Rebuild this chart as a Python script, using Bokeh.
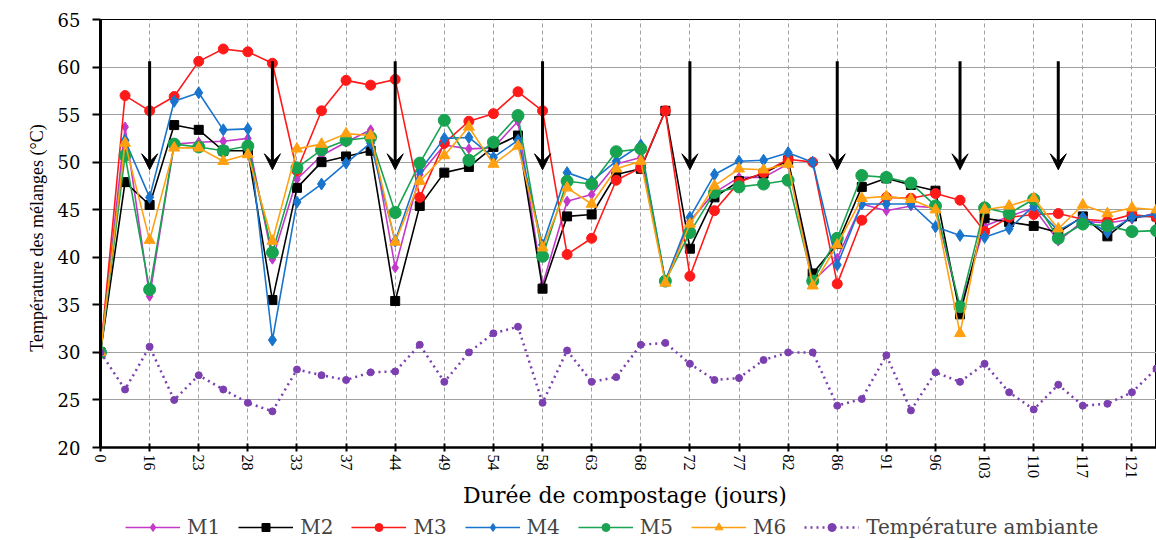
from bokeh.plotting import figure
from bokeh.layouts import column
from bokeh.models import Range1d, FixedTicker, Legend, LegendItem, Arrow, VeeHead
from bokeh.embed import file_html
from bokeh.resources import INLINE

# ---- data ----
days = ["0", "9", "16", "19", "23", "26", "28", "30", "33", "35", "37", "40", "44", "47",
        "49", "51", "54", "56", "58", "61", "63", "65", "68", "70", "72", "75", "77", "79",
        "82", "84", "86", "89", "91", "93", "96", "100", "103", "107", "110", "114", "117",
        "119", "121", "124"]
turning_days = ["16", "30", "44", "58", "72", "86", "100", "114"]

M1 = [30, 53.7, 35.9, 51.9, 52.1, 52.2, 52.5, 39.8, 48.2, 50.7, 52.1, 53.4, 38.9, 48.7,
      51.8, 51.4, 51.5, 54.3, 37.1, 45.9, 46.6, 49.8, 50.5, 37.5, 43.8, 46.8, 48.4, 48.4,
      49.8, 37.5, 39.9, 45.6, 44.9, 45.4, 45.2, 34.6, 43.3, 44.3, 45.2, 41.7, 43.8, 43.6,
      44.0, 44.7]
M2 = [30, 47.9, 45.5, 53.9, 53.4, 51.2, 51.2, 35.5, 47.3, 50.0, 50.6, 51.2, 35.4, 45.4,
      48.9, 49.5, 51.6, 52.8, 36.7, 44.3, 44.5, 48.7, 49.3, 55.4, 40.9, 46.3, 48.0, 48.8,
      50.2, 38.3, 41.4, 47.4, 48.3, 47.6, 47.0, 34.0, 44.1, 43.7, 43.3, 42.6, 44.3, 42.2,
      44.3, 44.3]
M3 = [30, 57.0, 55.4, 56.9, 60.6, 61.9, 61.6, 60.4, 49.1, 55.4, 58.6, 58.1, 58.7, 46.3,
      52.0, 54.3, 55.1, 57.4, 55.4, 40.3, 42.0, 48.1, 49.4, 55.4, 38.0, 44.9, 47.9, 48.9,
      50.3, 50.0, 37.2, 43.9, 46.3, 46.2, 46.7, 46.0, 42.7, 44.2, 44.5, 44.6, 44.0, 43.8,
      44.5, 44.2]
M4 = [30, 52.3, 46.3, 56.4, 57.3, 53.4, 53.5, 31.3, 45.8, 47.7, 49.9, 52.0, 41.7, 49.1,
      52.5, 52.6, 50.5, 52.3, 41.3, 48.9, 48.0, 50.1, 51.8, 37.5, 44.2, 48.7, 50.1, 50.2,
      51.0, 50.0, 39.2, 45.6, 45.6, 45.6, 43.2, 42.3, 42.1, 43.0, 45.4, 42.8, 44.2, 42.6,
      44.2, 44.5]
M5 = [30, 50.7, 36.6, 51.9, 51.6, 51.2, 51.7, 40.5, 49.4, 51.3, 52.3, 52.6, 44.7, 49.9,
      54.4, 50.2, 52.1, 54.9, 40.1, 48.0, 47.7, 51.1, 51.4, 37.5, 42.6, 46.8, 47.4, 47.7,
      48.1, 37.5, 42.0, 48.6, 48.4, 47.8, 45.4, 34.8, 45.2, 44.6, 46.1, 42.0, 43.5, 43.3,
      42.7, 42.8]
M6 = [30, 52.0, 41.8, 51.5, 51.5, 50.1, 50.8, 41.7, 51.4, 51.9, 53.0, 52.8, 41.6, 48.0,
      50.7, 53.7, 49.8, 51.7, 41.0, 47.3, 45.6, 49.3, 50.1, 37.3, 43.5, 47.5, 49.3, 49.2,
      49.8, 37.0, 41.3, 46.2, 46.4, 46.1, 45.0, 32.0, 45.0, 45.4, 46.2, 43.0, 45.5, 44.6,
      45.2, 45.0]
ambiante = [30, 26.1, 30.6, 25.0, 27.6, 26.1, 24.7, 23.8, 28.2, 27.6, 27.1, 27.9, 28.0, 30.8,
            26.9, 30.0, 32.0, 32.7, 24.7, 30.2, 26.9, 27.4, 30.8, 31.0, 28.8, 27.1, 27.3, 29.2,
            30.0, 30.0, 24.4, 25.1, 29.7, 23.9, 27.9, 26.9, 28.8, 25.8, 24.0, 26.6, 24.4, 24.6,
            25.8, 28.3]

WIDE = "DejaVu Serif"
SERIF = "Liberation Serif"
x = list(range(len(days)))
label_idx = x[::2]

p = figure(frame_width=1056, frame_height=428,
           x_range=Range1d(0, len(days) - 1), y_range=Range1d(20, 65),
           output_backend="svg", toolbar_location=None,
           min_border_left=100, min_border_top=19, min_border_right=0, min_border_bottom=64)
p.background_fill_color = "white"
p.border_fill_color = "white"
p.outline_line_color = "black"
p.outline_line_width = 1

# axes
p.xaxis.ticker = FixedTicker(ticks=label_idx)
p.xaxis.major_label_overrides = {i: days[i] for i in label_idx}
p.xaxis.major_label_orientation = "vertical"
p.xaxis.minor_tick_line_color = None
p.xaxis.major_tick_in = 4
p.xaxis.major_tick_out = 4
p.xaxis.axis_line_width = 2.5
p.xaxis.major_tick_line_width = 2
p.xaxis.major_label_text_font = SERIF
p.xaxis.major_label_text_font_size = "16px"
p.xaxis.major_label_text_color = "black"
p.xaxis.major_label_standoff = 3
p.xaxis.axis_label = "Durée de compostage  (jours)"
p.xaxis.axis_label_text_font = WIDE
p.xaxis.axis_label_text_font_size = "22px"
p.xaxis.axis_label_text_font_style = "normal"
p.xaxis.axis_label_text_color = "black"
p.xaxis.axis_label_standoff = 1

p.yaxis.ticker = FixedTicker(ticks=list(range(20, 66, 5)))
p.yaxis.minor_tick_line_color = None
p.yaxis.axis_line_width = 3
p.yaxis.major_tick_in = 0
p.yaxis.major_tick_out = 8
p.yaxis.major_tick_line_width = 2
p.yaxis.major_label_text_font = WIDE
p.yaxis.major_label_text_font_size = "18px"
p.yaxis.major_label_text_color = "black"
p.yaxis.major_label_standoff = 12
p.yaxis.axis_label = "Température  des mélanges  (°C)"
p.yaxis.axis_label_text_font = SERIF
p.yaxis.axis_label_text_font_size = "18px"
p.yaxis.axis_label_text_font_style = "normal"
p.yaxis.axis_label_text_color = "black"
p.yaxis.axis_label_standoff = 8

# grids
p.ygrid.grid_line_color = "#a0a0a0"
p.ygrid.grid_line_width = 1
p.xgrid.grid_line_color = "#a0a0a0"
p.xgrid.grid_line_dash = "4 3"
p.xgrid.grid_line_width = 1

series = [
    ("M1", M1, "#C238C8", "diamond", 10),
    ("M2", M2, "#000000", "square", 9),
    ("M3", M3, "#FF1A1A", "circle", 10),
    ("M4", M4, "#1874CD", "diamond", 12),
    ("M5", M5, "#17A350", "circle", 12),
    ("M6", M6, "#FFA010", "triangle", 11),
]
amb_col = "#7B3FB0"


def draw(fig):
    its = []
    for name, vals, col, mk, sz in series:
        lr = fig.line(x, vals, line_color=col, line_width=1.6)
        sr = fig.scatter(x, vals, marker=mk, size=sz, fill_color=col, line_color=col)
        its.append(LegendItem(label=name, renderers=[lr, sr]))
    la = fig.line(x, ambiante, line_color=amb_col, line_width=2.5, line_dash="2 4")
    sa = fig.scatter(x, ambiante, marker="circle", size=7, fill_color=amb_col, line_color=amb_col)
    its.append(LegendItem(label="Température ambiante", renderers=[la, sa]))
    return its


draw(p)

# turning arrows
for d in turning_days:
    i = days.index(d)
    p.add_layout(Arrow(end=VeeHead(size=16, fill_color="black", line_color="black"),
                       x_start=i, y_start=60.6, x_end=i, y_end=49.2,
                       line_color="black", line_width=3))

# legend strip (same series, view placed away from the data so only the legend shows)
leg_fig = figure(width=1156, height=28, x_range=Range1d(-20, -10), y_range=Range1d(0, 1),
                 output_backend="svg", toolbar_location=None,
                 min_border_left=0, min_border_right=0, min_border_top=0, min_border_bottom=0)
leg_fig.axis.visible = False
leg_fig.grid.visible = False
leg_fig.outline_line_color = None
leg_items = draw(leg_fig)
legend = Legend(items=leg_items, orientation="horizontal", location=(25, 0),
                label_text_font=WIDE, label_text_font_size="20px",
                glyph_width=55, glyph_height=20, label_standoff=7, spacing=18,
                padding=0, margin=0, border_line_color=None,
                background_fill_alpha=0)
leg_fig.add_layout(legend, "center")

layout = column(p, leg_fig, spacing=0)
open("out.html", "w").write(file_html(layout, INLINE))
